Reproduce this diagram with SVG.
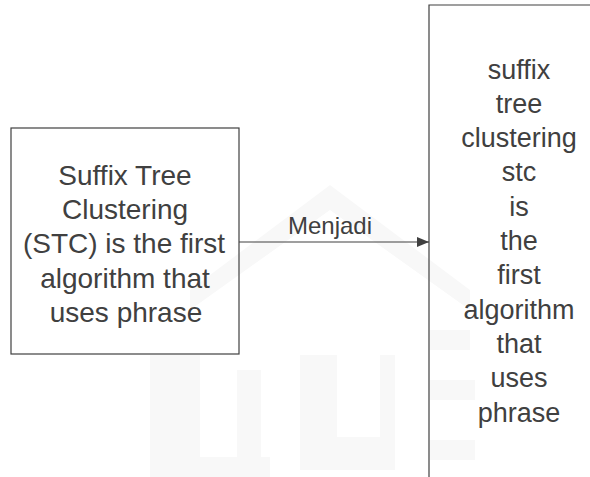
<svg xmlns="http://www.w3.org/2000/svg" width="590" height="477" viewBox="0 0 590 477">
  <defs>
    <marker id="arrow" viewBox="0 0 12 10" refX="12" refY="5" markerWidth="12" markerHeight="10" markerUnits="userSpaceOnUse" orient="auto">
      <path d="M0,0 L12,5 L0,10 Z" fill="#404040"/>
    </marker>
  </defs>
  <style>
    .box { fill: none; stroke: #404040; stroke-width: 1.2; }
    .t { font-family: Arial, "Liberation Sans", sans-serif; fill: #404040; text-anchor: middle; }
    .big { font-size: 28px; }
    .mid { font-size: 27px; }
    .lbl { font-size: 24px; }
    .edge { stroke: #404040; stroke-width: 1.2; fill: none; }
    .wm { fill: #f8f8f8; }
  </style>
  <rect width="590" height="477" fill="#ffffff"/>

  <!-- faint background emblem -->
  <g id="emblem">
    <polygon class="wm" points="330,185 470,290 470,310 330,210 190,310 190,290"/>
    <rect class="wm" x="150" y="355" width="50" height="122"/>
    <rect class="wm" x="237" y="370" width="24" height="107"/>
    <path class="wm" d="M300,355 L337,355 L337,437 L380,437 L380,355 L395,355 L395,470 L300,470 Z"/>
    <rect class="wm" x="200" y="457" width="70" height="20"/>
    <rect class="wm" x="430" y="330" width="40" height="20"/>
    <rect class="wm" x="430" y="380" width="45" height="20"/>
    <rect class="wm" x="430" y="440" width="45" height="20"/>
  </g>

  <g id="node-source">
    <rect class="box" x="11" y="128" width="228" height="226"/>
    <text class="t big" x="125" y="185">Suffix Tree</text>
    <text class="t big" x="125" y="219">Clustering</text>
    <text class="t big" x="124" y="253">(STC) is the first</text>
    <text class="t big" x="125" y="288">algorithm that</text>
    <text class="t big" x="126" y="322">uses phrase</text>
  </g>

  <g id="node-target">
    <path class="box" d="M429,477 L429,5 L590,5"/>
    <text class="t mid" x="519" y="79">suffix</text>
    <text class="t mid" x="519" y="113">tree</text>
    <text class="t mid" x="519" y="147">clustering</text>
    <text class="t mid" x="519" y="181">stc</text>
    <text class="t mid" x="519" y="216">is</text>
    <text class="t mid" x="519" y="250">the</text>
    <text class="t mid" x="519" y="284">first</text>
    <text class="t mid" x="519" y="319">algorithm</text>
    <text class="t mid" x="519" y="353">that</text>
    <text class="t mid" x="519" y="387">uses</text>
    <text class="t mid" x="519" y="422">phrase</text>
  </g>

  <g id="connectors">
    <line class="edge" x1="239" y1="242" x2="429" y2="242" marker-end="url(#arrow)"/>
    <text class="t lbl" x="330" y="234">Menjadi</text>
  </g>
</svg>
